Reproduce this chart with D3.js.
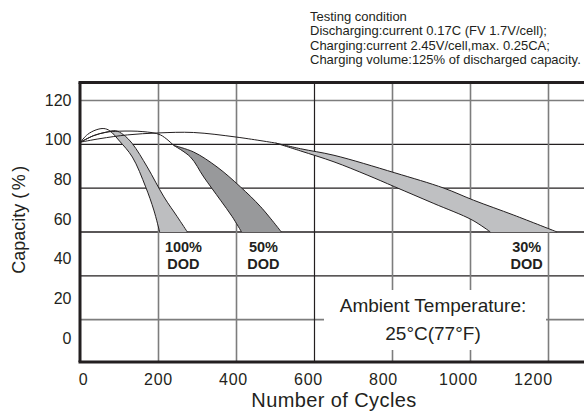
<!DOCTYPE html>
<html><head><meta charset="utf-8">
<script src="https://cdn.jsdelivr.net/npm/d3@7"></script>
<style>
body{margin:0;background:#fff}
svg{display:block}
text{font-family:"Liberation Sans",Arial,sans-serif;fill:#231f20}
</style></head>
<body><svg id="c" width="584" height="413"></svg>
<script>
// ---- data ----
const xTicks = [0, 200, 400, 600, 800, 1000, 1200];
const yTicks = [0, 20, 40, 60, 80, 100, 120];
const conditionLines = [
  "Testing condition",
  "Discharging:current 0.17C (FV 1.7V/cell);",
  "Charging:current 2.45V/cell,max. 0.25CA;",
  "Charging volume:125% of discharged capacity."
];
const ambientLines = ["Ambient Temperature:", "25\u00B0C(77\u00B0F)"];
const dodNames = ["100%", "50%", "30%"];
const dodLabelCycles = [264, 469, 1144];   // label anchor (cycles)
const dodLabelCap = 50.7;                  // label anchor (capacity %)

// capacity (%) vs cycles
const dod100Left  = [[0,101],[18,104.5],[40,106.6],[60,107.2],[75,106.2],[100,101.5],[133,94.2],[167,80.6],[188,70],[203,60]];
const dod100Right = [[0,101],[34,104],[65,105.5],[90,106.2],[110,104.4],[133,100.3],[171,89.7],[214,76],[248,67],[274,60]];
const dod100BandL = [[75,106.2],[100,101.5],[133,94.2],[167,80.6],[188,70],[203,60]];
const dod100BandR = [[90,106.2],[110,104.4],[133,100.3],[171,89.7],[214,76],[248,67],[274,60]];

const dod50Stem  = [[0,101],[34,104],[65,105.5],[100,106],[160,105.8],[205,104.3],[239,99.5]];
const dod50Upper = [[239,99.5],[290,96.5],[350,89.7],[410,80.6],[462,71.5],[515,60]];
const dod50Lower = [[239,99.5],[282,94.2],[316,85.1],[359,74.5],[389,67],[413,60]];

const dod30Stem  = [[0,101],[50,102.6],[120,104.3],[200,105.2],[290,105.4],[400,103.3],[500,100.6]];
const dod30Upper = [[500,100.6],[564,98],[650,95],[806,87],[932,80],[1008,74.5],[1111,67.7],[1222,60]];
const dod30Lower = [[500,100.6],[564,97],[650,92],[735,86],[806,80.6],[906,73],[1004,65.5],[1051,60]];

// ---- styles ----
const darkY = new Set([40, 60, 80, 100]);
const darkX = new Set([600]);
const ink = "#231f20";

const svg = d3.select("#c");
const x = d3.scaleLinear().domain([0, 1200]).range([80.5, 548.5]);
const y = d3.scaleLinear().domain([0, 120]).range([363.5, 100.5]);
const xLab = d3.scaleLinear().domain([0, 1200]).range([83, 533]);
const yLab = d3.scaleLinear().domain([0, 120]).range([338, 100]);

const fTop = 82.5, fBottom = 362, fLeft = 80, fRight = 584;

// grid
svg.append("g").selectAll("line").data(yTicks.filter(d => d > 0)).join("line")
  .attr("x1", fLeft).attr("x2", fRight)
  .attr("y1", d => y(d)).attr("y2", d => y(d))
  .attr("stroke", d => darkY.has(d) ? ink : "#7d7d7d")
  .attr("stroke-width", d => darkY.has(d) ? 1.3 : 1.6);
svg.append("g").selectAll("line").data(xTicks.filter(d => d > 0)).join("line")
  .attr("y1", fTop).attr("y2", fBottom)
  .attr("x1", d => x(d)).attr("x2", d => x(d))
  .attr("stroke", d => darkX.has(d) ? ink : "#7d7d7d")
  .attr("stroke-width", d => darkX.has(d) ? 1.2 : 1.6);

// white box behind ambient text
svg.append("rect").attr("x", 324).attr("y", 290).attr("width", 222).attr("height", 60).attr("fill", "#fff");

// curves
const lineGen = d3.line().x(d => x(d[0])).y(d => y(d[1])).curve(d3.curveCatmullRom.alpha(0.5));
function band(a, b) {
  const p1 = lineGen(a);
  const p2 = lineGen(b.slice().reverse()).replace(/^M/, "L");
  return p1 + p2 + "Z";
}
svg.append("path").attr("d", band(dod100BandL, dod100BandR)).attr("fill", "#bdbec0");
svg.append("path").attr("d", band(dod50Lower, dod50Upper)).attr("fill", "#98999b");
svg.append("path").attr("d", band(dod30Lower, dod30Upper)).attr("fill", "#bfc0c2");

[dod100Left, dod100Right, dod50Stem, dod50Upper, dod50Lower, dod30Stem, dod30Upper, dod30Lower].forEach(pts => {
  svg.append("path").attr("d", lineGen(pts)).attr("fill", "none").attr("stroke", ink).attr("stroke-width", 1);
});

// frame
svg.append("line").attr("x1", fLeft - 1.5).attr("x2", fRight).attr("y1", fTop).attr("y2", fTop).attr("stroke", ink).attr("stroke-width", 3);
svg.append("line").attr("x1", fLeft).attr("x2", fLeft).attr("y1", fTop).attr("y2", fBottom).attr("stroke", ink).attr("stroke-width", 3);
svg.append("line").attr("x1", fLeft - 1.5).attr("x2", fRight).attr("y1", fBottom).attr("y2", fBottom).attr("stroke", ink).attr("stroke-width", 3);

// axes labels
const ff = '"Liberation Sans",Arial,sans-serif';
svg.append("g").attr("transform", `translate(0,${fBottom})`)
  .call(d3.axisBottom(xLab).tickValues(xTicks).tickSize(0).tickPadding(11.6).tickFormat(d3.format("d")))
  .call(g => g.select(".domain").remove())
  .attr("font-size", 16).attr("font-family", ff).attr("color", ink)
  .selectAll("text").attr("letter-spacing", "0.8px");
svg.append("g").attr("transform", `translate(${fLeft},0)`)
  .call(d3.axisLeft(yLab).tickValues(yTicks).tickSize(0).tickPadding(8.5).tickFormat(d3.format("d")))
  .call(g => g.select(".domain").remove())
  .attr("font-size", 16).attr("font-family", ff).attr("color", ink);

// axis titles
svg.append("text").attr("x", 334).attr("y", 407).attr("text-anchor", "middle")
  .attr("font-size", 20).attr("letter-spacing", "0.4px").text("Number of Cycles");
const yt = svg.append("text").attr("transform", "translate(25,218.5) rotate(-90)")
  .attr("text-anchor", "middle").attr("font-size", 18);
yt.append("tspan").text("Capacity ");
yt.append("tspan").attr("letter-spacing", "2.5px").text("(%)");

// DOD labels
dodNames.forEach((n, i) => {
  const t = svg.append("text").attr("text-anchor", "middle").attr("font-weight", "bold").attr("font-size", 14.5);
  t.append("tspan").attr("x", x(dodLabelCycles[i])).attr("y", y(dodLabelCap)).text(n);
  t.append("tspan").attr("x", x(dodLabelCycles[i])).attr("dy", 17).text("DOD");
});

// ambient
ambientLines.forEach((s, i) => {
  svg.append("text").attr("x", 433).attr("y", 312 + i * 28).attr("text-anchor", "middle")
    .attr("font-size", 19).text(s);
});

// testing condition
conditionLines.forEach((s, i) => {
  svg.append("text").attr("x", 310).attr("y", 21.3 + i * 14.1).attr("font-size", 13).text(s);
});
</script></body></html>
